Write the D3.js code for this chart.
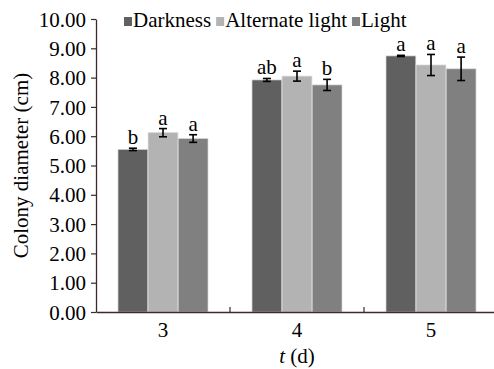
<!DOCTYPE html>
<html>
<head>
<meta charset="utf-8">
<script src="https://cdn.jsdelivr.net/npm/d3@7"></script>
<style>
  body { margin: 0; background: #fff; }
</style>
</head>
<body>
<div id="chart"></div>
<script>
// Data
const days = ['3', '4', '5'];
const treatments = ['Darkness', 'Alternate light', 'Light'];
const colors = ['#606060', '#b3b3b3', '#808080'];
const darkness = [5.55, 7.92, 8.74];
const alternate = [6.12, 8.05, 8.43];
const light = [5.92, 7.75, 8.30];
const darknessErr = [0.04, 0.05, 0.02];
const alternateErr = [0.14, 0.17, 0.36];
const lightErr = [0.13, 0.19, 0.40];
const darknessSig = ['b', 'ab', 'a'];
const alternateSig = ['a', 'a', 'a'];
const lightSig = ['a', 'b', 'a'];
const yTicks = [0, 1, 2, 3, 4, 5, 6, 7, 8, 9, 10];

const FONT = 'Liberation Serif';
const width = 494, height = 369;
const margin = { top: 19, right: -4, bottom: 57, left: 96 };

const svg = d3.select('#chart').append('svg')
    .attr('width', width)
    .attr('height', height);

const x0 = d3.scaleBand()
    .domain(days)
    .range([margin.left, width - margin.right])
    .paddingInner(0)
    .paddingOuter(0);

// bars are ~30px each, group ~90px of the 134px band
const x1 = d3.scaleBand()
    .domain(treatments)
    .range([22, x0.bandwidth() - 22])
    .paddingInner(0.01)
    .paddingOuter(0);

const y = d3.scaleLinear()
    .domain([0, 10])
    .range([height - margin.bottom, margin.top]);

const series = [
    { name: treatments[0], values: darkness, err: darknessErr, sig: darknessSig, color: colors[0] },
    { name: treatments[1], values: alternate, err: alternateErr, sig: alternateSig, color: colors[1] },
    { name: treatments[2], values: light, err: lightErr, sig: lightSig, color: colors[2] }
];

const rows = [];
series.forEach(s => {
    days.forEach((d, i) => {
        rows.push({ day: d, name: s.name, value: s.values[i], err: s.err[i], sig: s.sig[i], color: s.color });
    });
});

// Bars
svg.append('g')
    .selectAll('rect')
    .data(rows)
    .join('rect')
    .attr('x', d => x0(d.day) + x1(d.name))
    .attr('y', d => y(d.value))
    .attr('width', x1.bandwidth())
    .attr('height', d => y(0) - y(d.value))
    .attr('fill', d => d.color)
    .attr('stroke', '#d6d6d6')
    .attr('stroke-width', 0.7);

// Error bars
const eb = svg.append('g')
    .attr('stroke', '#000')
    .attr('stroke-width', 1.6);

rows.forEach(d => {
    const cx = x0(d.day) + x1(d.name) + x1.bandwidth() / 2;
    eb.append('line')
        .attr('x1', cx).attr('x2', cx)
        .attr('y1', y(d.value + d.err)).attr('y2', y(d.value - d.err));
    [d.value + d.err, d.value - d.err].forEach(v => {
        eb.append('line')
            .attr('x1', cx - 4).attr('x2', cx + 4)
            .attr('y1', y(v)).attr('y2', y(v));
    });
});

// Significance letters
rows.forEach(d => {
    svg.append('text')
        .attr('x', x0(d.day) + x1(d.name) + x1.bandwidth() / 2)
        .attr('y', y(d.value + d.err) - 4)
        .attr('font-size', 21)
        .attr('font-family', FONT)
        .attr('text-anchor', 'middle')
        .text(d.sig);
});

// Y axis
const yAxis = svg.append('g')
    .attr('transform', `translate(${margin.left},0)`)
    .call(d3.axisLeft(y).tickValues(yTicks).tickFormat(d3.format('.2f')).tickSize(5).tickSizeOuter(0));
yAxis.select('.domain').attr('stroke', '#3a2a2a').attr('stroke-width', 1.3);
yAxis.selectAll('.tick line').attr('stroke', '#3a2a2a').attr('stroke-width', 1.2);
yAxis.selectAll('.tick text')
    .attr('font-family', FONT)
    .attr('font-size', 21)
    .attr('x', -10)
    .attr('dy', '0.34em')
    .attr('fill', '#000');

// X axis
const xAxis = svg.append('g')
    .attr('transform', `translate(0,${y(0)})`)
    .call(d3.axisBottom(x0).tickSize(0).tickSizeOuter(0));
xAxis.select('.domain').attr('stroke', '#3a2a2a').attr('stroke-width', 1.3);
xAxis.selectAll('.tick text')
    .attr('font-family', FONT)
    .attr('font-size', 21)
    .attr('dy', 0)
    .attr('y', 25)
    .attr('fill', '#000');

// inner ticks at the band boundaries
svg.append('g')
    .selectAll('line')
    .data(days.slice(1))
    .join('line')
    .attr('x1', d => x0(d)).attr('x2', d => x0(d))
    .attr('y1', y(0)).attr('y2', y(0) - 5)
    .attr('stroke', '#3a2a2a')
    .attr('stroke-width', 1.2);

// Axis titles
svg.append('text')
    .attr('transform', `translate(28,${(y(0) + y(10)) / 2}) rotate(-90)`)
    .attr('font-size', 21)
    .attr('font-family', FONT)
    .attr('text-anchor', 'middle')
    .text('Colony diameter (cm)');

const xt = svg.append('text')
    .attr('x', x0('4') + x0.bandwidth() / 2)
    .attr('y', 363)
    .attr('font-size', 21)
    .attr('font-family', FONT)
    .attr('text-anchor', 'middle');
xt.append('tspan').attr('font-style', 'italic').text('t');
xt.append('tspan').text(' (d)');

// Legend
const legend = svg.append('g').attr('transform', 'translate(124,27)');
let lx = 0;
series.forEach(s => {
    legend.append('rect')
        .attr('x', lx).attr('y', -10)
        .attr('width', 8).attr('height', 9)
        .attr('fill', s.color);
    const t = legend.append('text')
        .attr('x', lx + 9)
        .attr('y', 0)
        .attr('font-size', 21)
        .attr('font-family', FONT)
        .text(s.name);
    lx += 9 + t.node().getComputedTextLength() + 5;
});
</script>
</body>
</html>
